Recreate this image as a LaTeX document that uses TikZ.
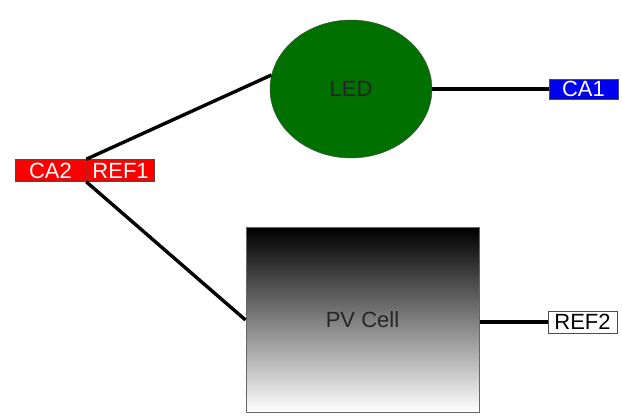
\documentclass[tikz,border=0pt]{standalone}
\usepackage{fontspec}
\setmainfont{Liberation Sans}
\usepackage{tikz}
\usetikzlibrary{shapes.geometric}

\definecolor{ledgreen}{RGB}{0,112,0}
\definecolor{pinblue}{RGB}{0,0,240}
\definecolor{pinred}{RGB}{250,0,0}

\tikzset{
  pin/.style={inner sep=0pt,minimum height=22pt,draw=black!70,line width=0.6pt,text=white,font=\fontsize{22}{24}\selectfont},
  wire/.style={line width=3.4pt}
}

\begin{document}
\begin{tikzpicture}[x=1pt,y=-1pt]
\useasboundingbox (0,0) rectangle (622,417);
\node[ellipse,draw=black!70,fill=ledgreen,minimum width=162pt,minimum height=138pt,inner sep=0pt,text=black!85,font=\fontsize{22}{24}\selectfont] (led) at (351,89) {LED};
\node[pin,fill=pinblue,minimum width=69pt,minimum height=20pt] (ca1) at (583.5,89) {CA1};
\node[pin,fill=pinred,minimum width=71pt] (ca2) at (50.5,170.5) {CA2};
\node[pin,fill=pinred,minimum width=68pt,anchor=west] (ref1) at (ca2.east) {REF1};
\node[draw=black!60,line width=1pt,top color=black,bottom color=white,minimum width=233pt,minimum height=184pt,inner sep=0pt,text=black!85,font=\fontsize{22}{24}\selectfont] (pv) at (362.5,320) {PV Cell};
\node[pin,fill=white,text=black,minimum width=69pt] (ref2) at (582.5,322) {REF2};
\draw[wire] (led.east) -- (ca1.west);
\draw[wire] (ref1.north west) -- (led.170);
\draw[wire] (ref1.south west) -- (pv.west);
\draw[wire] (pv.east |- ref2) -- (ref2);
\end{tikzpicture}
\end{document}
